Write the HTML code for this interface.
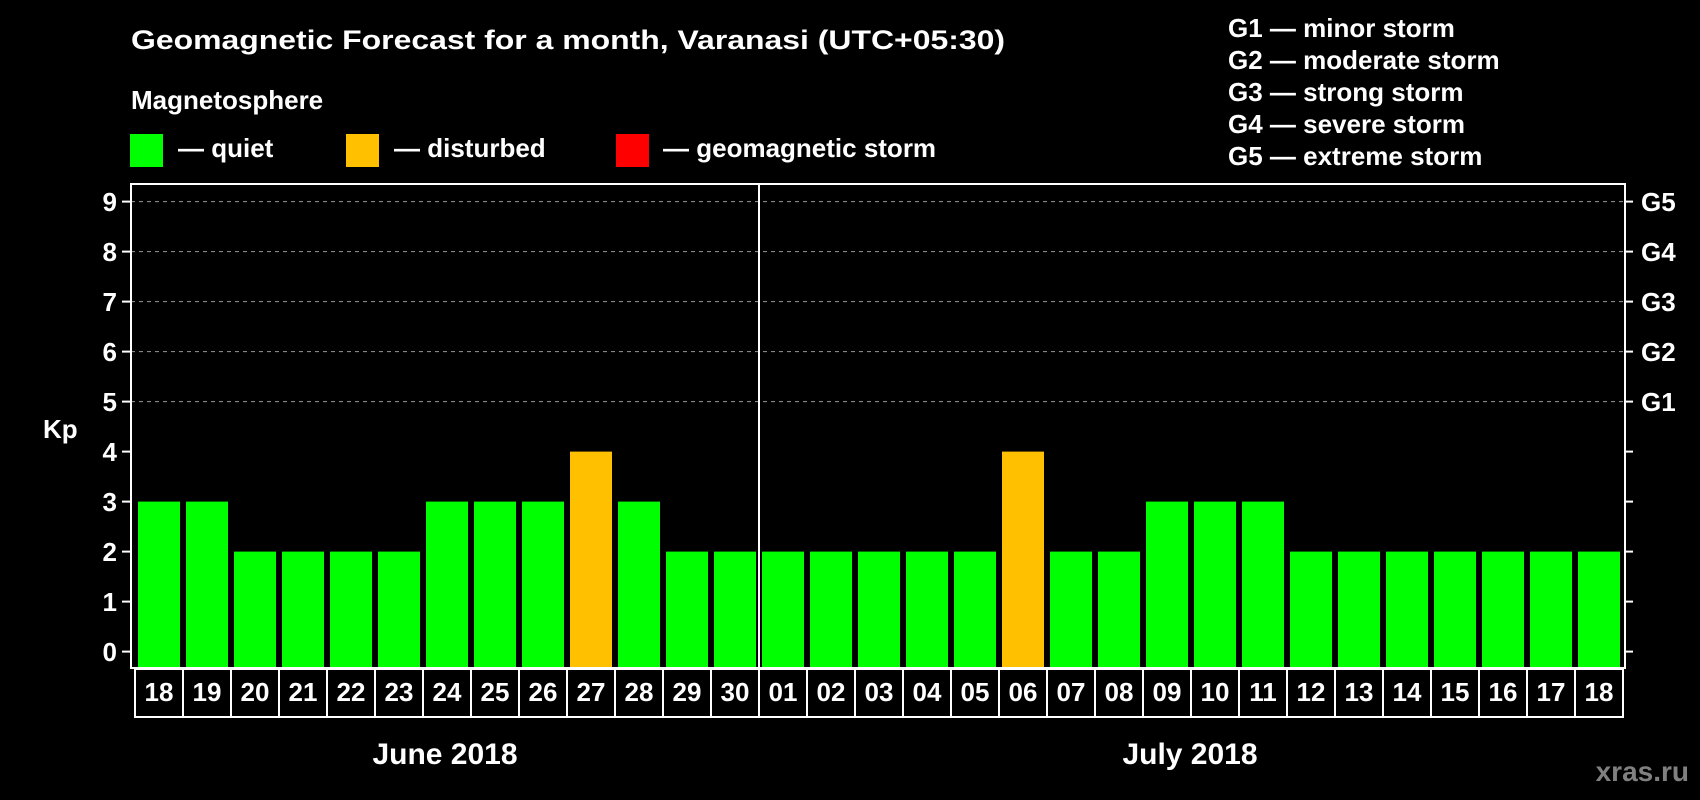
<!DOCTYPE html>
<html><head><meta charset="utf-8"><style>
html,body{margin:0;padding:0;background:#000;}
svg{display:block;font-family:"Liberation Sans",Arial,sans-serif;font-weight:bold;}
</style></head><body>
<svg id="chart" width="1700" height="800" viewBox="0 0 1700 800" xmlns="http://www.w3.org/2000/svg">
<rect width="1700" height="800" fill="#000"/>
<text x="131" y="49" font-size="27" fill="#fff" textLength="874" lengthAdjust="spacingAndGlyphs">Geomagnetic Forecast for a month, Varanasi (UTC+05:30)</text>
<text x="131" y="109" font-size="26" fill="#fff">Magnetosphere</text>
<g><rect x="130" y="134" width="33" height="33" fill="#00ff00"/><text x="178" y="157" font-size="26" fill="#fff">— quiet</text></g>
<g><rect x="346" y="134" width="33" height="33" fill="#ffc000"/><text x="394" y="157" font-size="26" fill="#fff">— disturbed</text></g>
<g><rect x="616" y="134" width="33" height="33" fill="#ff0000"/><text x="663" y="157" font-size="26" fill="#fff">— geomagnetic storm</text></g>
<g font-size="26" fill="#fff">
<text x="1228" y="37">G1 — minor storm</text>
<text x="1228" y="69">G2 — moderate storm</text>
<text x="1228" y="101">G3 — strong storm</text>
<text x="1228" y="133">G4 — severe storm</text>
<text x="1228" y="165">G5 — extreme storm</text>
</g>
<text x="43" y="438" font-size="26" fill="#fff">Kp</text>
<text x="445" y="764" font-size="30" fill="#fff" text-anchor="middle">June 2018</text>
<text x="1190" y="764" font-size="30" fill="#fff" text-anchor="middle">July 2018</text>
<text x="1689" y="781" font-size="28" fill="#808080" text-anchor="end">xras.ru</text>
<g id="plot"></g>
</svg>
<script>
const days = ["18","19","20","21","22","23","24","25","26","27","28","29","30","01","02","03","04","05","06","07","08","09","10","11","12","13","14","15","16","17","18"];
const kpValues = [3,3,2,2,2,2,3,3,3,4,3,2,2,2,2,2,2,2,4,2,2,3,3,3,2,2,2,2,2,2,2];
const yTicks = [0,1,2,3,4,5,6,7,8,9];
const gLabels = ["G1","G2","G3","G4","G5"];
const gLevels = [5,6,7,8,9];
const monthSplitIndex = 13;

const NS = "http://www.w3.org/2000/svg";
const plot = document.getElementById("plot");
const L = 131, R = 1625, T = 184, B = 668;
const y = v => 651.6 - 50 * v;
const step = 48;
const barX = i => 138 + i * step;
const cellX = i => 135 + i * step;
function mk(tag, attrs, parent) {
  const e = document.createElementNS(NS, tag);
  for (const k in attrs) e.setAttribute(k, attrs[k]);
  (parent || plot).appendChild(e);
  return e;
}
// grid
gLevels.forEach(v => {
  const g = mk("line", {x1: L, x2: R, y1: y(v), y2: y(v), stroke: "#999", "stroke-width": 1, "stroke-dasharray": "4,4"});
  
  
});
// bars
kpValues.forEach((v, i) => {
  const c = v >= 5 ? "#ff0000" : (v >= 4 ? "#ffc000" : "#00ff00");
  const b = mk("rect", {x: barX(i), y: y(v), width: 42, height: 667 - y(v), fill: c});
  
  
});
// frame
const f = mk("rect", {x: L, y: T, width: R - L, height: B - T, fill: "none", stroke: "#fff", "stroke-width": 2});


// y ticks
yTicks.forEach(v => {
  const t = mk("line", {x1: 122, x2: L, y1: y(v), y2: y(v), stroke: "#fff", "stroke-width": 2});
  
  
  const t2 = mk("line", {x1: R, x2: R + 8, y1: y(v), y2: y(v), stroke: "#fff", "stroke-width": 2});
  
  
  const l = mk("text", {x: 117, y: y(v) + 9.5, "font-size": 26, fill: "#fff", "text-anchor": "end"});
  l.textContent = v;
  
  
});
gLabels.forEach((g, i) => {
  const l = mk("text", {x: 1641, y: y(gLevels[i]) + 9.5, "font-size": 26, fill: "#fff"});
  l.textContent = g;
  
  
});
// day cells
days.forEach((d, i) => {
  const r = mk("rect", {x: cellX(i), y: 669, width: step, height: 48, fill: "none", stroke: "#fff", "stroke-width": 2});
  
  
  const t = mk("text", {x: cellX(i) + step / 2, y: 701, "font-size": 26, fill: "#fff", "text-anchor": "middle"});
  t.textContent = d;
  
  
});
// month divider
const dx = barX(monthSplitIndex) - 3;
const dv = mk("line", {x1: dx, x2: dx, y1: T, y2: 717, stroke: "#fff", "stroke-width": 2});


</script>
</body></html>
